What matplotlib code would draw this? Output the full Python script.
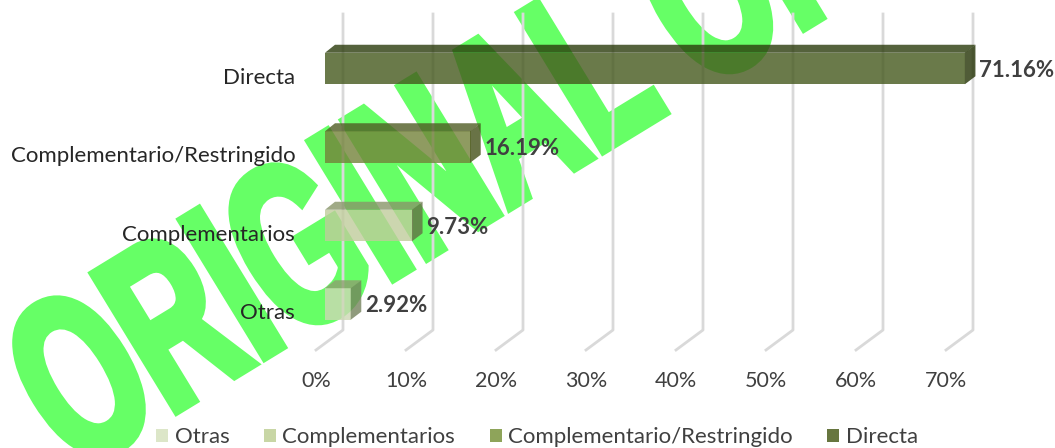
import matplotlib
matplotlib.use('Agg')
import matplotlib.pyplot as plt
from matplotlib.patches import Polygon, Patch
from matplotlib.patheffects import AbstractPathEffect
from matplotlib.transforms import Affine2D, ScaledTranslation

categories = ['Otras', 'Complementarios', 'Complementario/Restringido', 'Directa']
values = [2.92, 9.73, 16.19, 71.16]
value_labels = ['2.92%', '9.73%', '16.19%', '71.16%']
xticks = [0, 10, 20, 30, 40, 50, 60, 70]

front_colors = ['#cdd8b4', '#c0cc9b', '#73823a', '#45591d']
top_colors = ['#8e9f6f', '#889569', '#505c24', '#2a3b0b']
side_colors = ['#75825c', '#636f44', '#445018', '#243305']
legend_colors = ['#dce6c8', '#c8d6a5', '#8ea45a', '#67763f']

W, H = 1055, 448


class Squeeze(AbstractPathEffect):
    # narrows the watermark letters, no condensed heavy font is installed
    def __init__(self, sx, lw):
        super().__init__()
        self.sx = sx
        self.lw = lw

    def draw_path(self, renderer, gc, tpath, affine, rgbFace=None):
        gc0 = renderer.new_gc()
        gc0.copy_properties(gc)
        gc0.set_linewidth(self.lw)
        gc0.set_joinstyle('miter')
        gc0.set_foreground(rgbFace)
        renderer.draw_path(gc0, tpath, Affine2D().scale(self.sx, 1) + affine, rgbFace)
        gc0.restore()


plt.rcParams['font.family'] = ['Lato', 'DejaVu Sans']
fig = plt.figure(figsize=(W / 100, H / 100), dpi=100)

# pixel frame of the plot: 9 px per percent, 78.5 px per category
ax = fig.add_axes([316 / W, (H - 350) / H, 675 / W, 336 / H], zorder=2)
ax.patch.set_alpha(0)
ax.set_xlim(0, 75)
ax.set_ylim(-46 / 78.5, 290 / 78.5)
for s in ax.spines.values():
    s.set_visible(False)

# watermark sits under the chart
wm = fig.text(74 / W, (H - 474) / H, 'ORIGINAL ORIGINAL', rotation=31.4, rotation_mode='anchor',
              ha='left', va='baseline', color='#66ff66', fontsize=168.5, fontweight='bold',
              family=['Liberation Sans'], zorder=1)
wm.set_path_effects([Squeeze(0.61, 6)])

# 3D offsets
wall_dx = 27 / 9
wall_dy = 20 / 78.5
bar_left = 1.0
depth_x = 10 / 9
depth_y = 8 / 78.5
bar_h = 31.5 / 78.5
ylo = ax.get_ylim()[0]
yhi = ax.get_ylim()[1]

for t in xticks:
    ax.plot([t, t + wall_dx, t + wall_dx], [ylo, ylo + wall_dy, yhi], color='#d9d9d9', lw=2, clip_on=False, zorder=1)

ypos = list(range(len(categories)))
ax.barh(ypos, values, left=bar_left, height=bar_h, color=front_colors, alpha=0.8, zorder=3)

for y, v, lab, top, side in zip(ypos, values, value_labels, top_colors, side_colors):
    x1 = bar_left + v
    y1 = y + bar_h / 2
    y0 = y - bar_h / 2
    ax.add_patch(Polygon([(bar_left, y1), (x1, y1), (x1 + depth_x, y1 + depth_y), (bar_left + depth_x, y1 + depth_y)],
                         facecolor=top, edgecolor='none', alpha=0.8, zorder=3))
    # small overlap so no pale seam shows between front and side
    ax.add_patch(Polygon([(x1 - 0.06, y0), (x1 + depth_x, y0 + depth_y), (x1 + depth_x, y1 + depth_y), (x1 - 0.06, y1)],
                         facecolor=side, edgecolor='none', alpha=0.8, zorder=3))
    ax.annotate(lab, (x1 + depth_x, y + depth_y / 2), xytext=(2.5, -4), textcoords='offset points', va='center',
                color='#404040', fontsize=16, fontweight='bold', zorder=4, annotation_clip=False)

ax.set_xticks(xticks)
ax.set_xticklabels([f'{t}%' for t in xticks])
ax.set_yticks(ypos)
ax.set_yticklabels(categories)
ax.tick_params(axis='x', length=0, pad=15, labelsize=15.5, labelcolor='#404040')
ax.tick_params(axis='y', length=0, pad=15, labelsize=16, labelcolor='#262626')
for label in ax.get_yticklabels():
    label.set_transform(label.get_transform() + ScaledTranslation(0, -7 / 100, fig.dpi_scale_trans))

handles = [Patch(facecolor=c, label=n) for c, n in zip(legend_colors, categories)]
fig.legend(handles=handles, loc='center', bbox_to_anchor=(537 / W, (H - 437) / H), ncols=4, frameon=False,
           fontsize=16, handlelength=0.54, handleheight=0.54, handletextpad=0.3, columnspacing=1.55,
           labelcolor='#404040')

fig.savefig('out.png', dpi=100)
